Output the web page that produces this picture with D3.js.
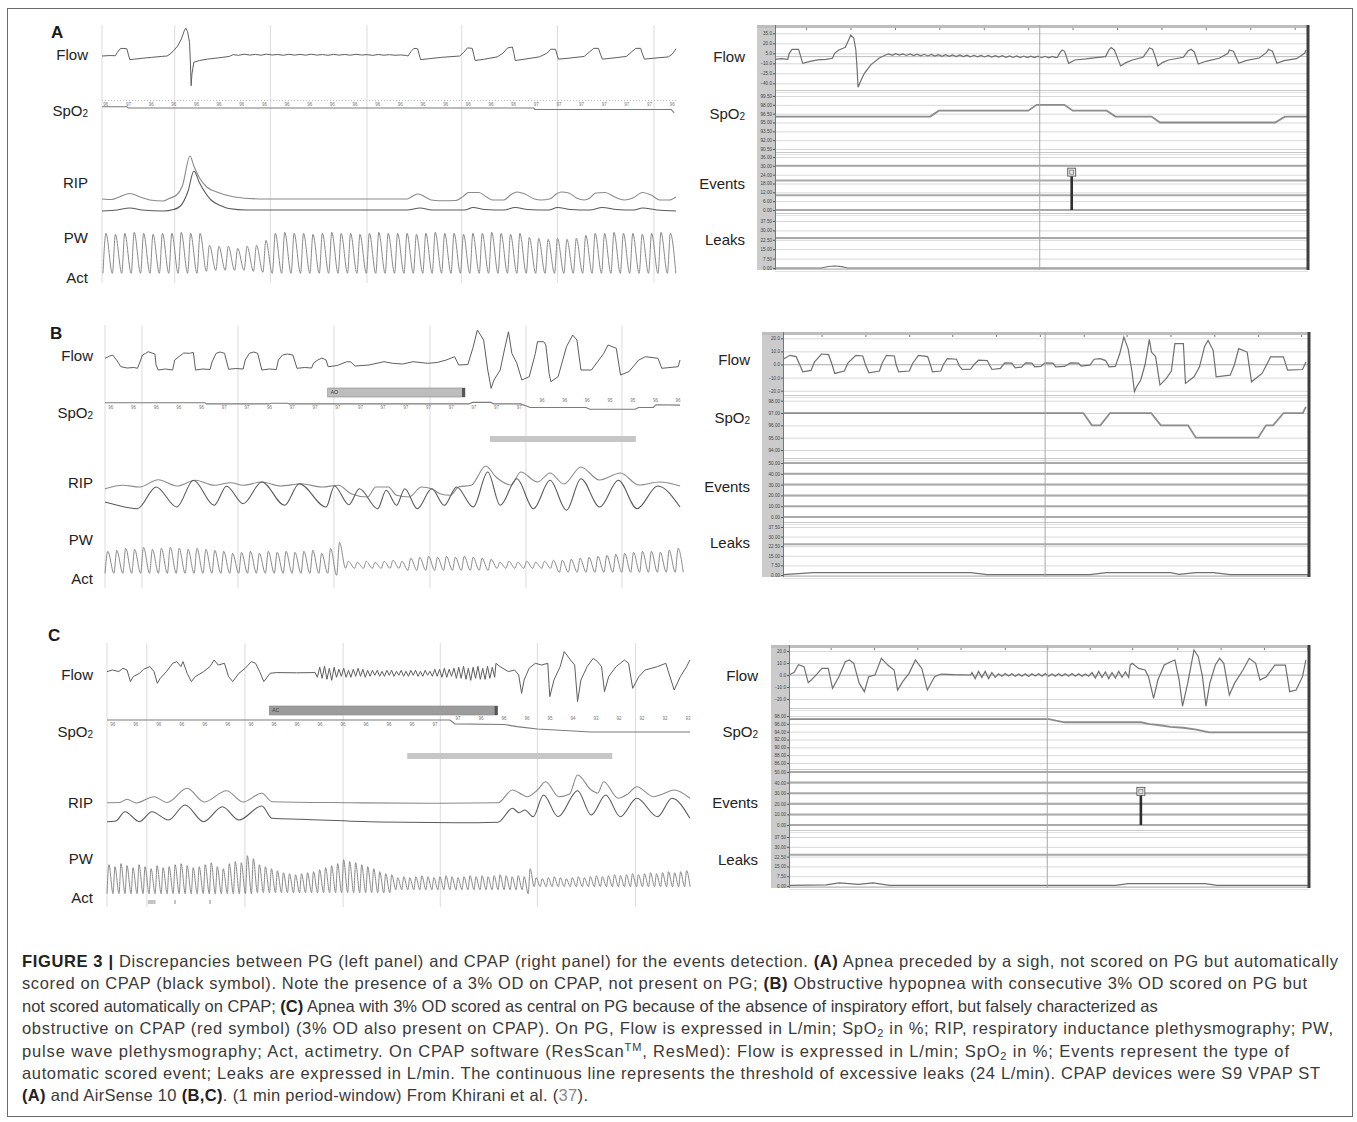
<!DOCTYPE html>
<html>
<head>
<meta charset="utf-8">
<script src="https://cdn.jsdelivr.net/npm/d3@7"></script>
<style>
  body { margin: 0; background: #fff; }
  text { font-family: "Liberation Sans", Arial, sans-serif; }
</style>
</head>
<body>
<div id="chart"></div>
<script>
// ================= PG (left panels) data : [time s, value] =================
var trackNames = ["Flow", "SpO2", "RIP", "PW", "Act"];
var cpapNames = ["Flow", "SpO2", "Events", "Leaks"];

// ---- A ----
var gridA = [7.6, 17.6, 27.7, 37.6, 47.6, 57.7];
var flowA1 = [[0,0],[0.8,0.5],[1.4,0.3],[1.6,4],[1.9,8],[2.2,8.5],[2.6,8],[2.75,2],[2.9,-4],[3.4,-3.5],[4.2,-2.5],[5.2,-1.5],[6.2,-0.5],[6.8,0],[7.1,2],[7.5,6],[7.9,11],[8.3,19],[8.6,28],[8.75,31],[8.95,27],[9.15,15],[9.25,-10],[9.32,-33],[9.4,-20],[9.6,-7],[10.2,-5],[11,-3.5],[12.2,-2],[13.3,-0.5]];
var rippleA = [1.5,0.8,2,1,1.8,0.9,2.1,1.1,1.7,0.8,1.9,1,1.8,0.9,2,1,1.6,0.8,1.8,1,1.7,0.9,1.9,1.1,1.5,0.7,1.7,0.9,1.5,0.8,1.2,0.6];
var rippleA_span = [13.7, 31.8];
var flowA2 = [[32.0,0],[32.3,5],[32.6,8.5],[33.0,8],[33.15,2],[33.3,-4],[34.2,-3],[35.5,-1.5],[37.4,0],[37.8,4],[38.2,9],[38.7,8.5],[38.85,2],[39.0,-5],[40,-3.5],[41.3,-1],[41.9,3],[42.4,9],[42.9,10],[43.05,3],[43.2,-5],[44.2,-3.5],[45.7,-1],[46.5,3],[46.9,7.5],[47.4,7.5],[47.55,2],[47.7,-3.5],[48.7,-2.5],[50.4,-0.5],[50.9,4],[51.4,8.5],[51.9,8.5],[52.1,2],[52.3,-3.5],[53.2,-2.5],[54.8,-0.5],[55.3,4],[55.8,8.5],[56.3,8.5],[56.5,2],[56.7,-3.5],[57.6,-2.5],[59.2,-1],[59.6,2],[60,8]];
var spo2A = [[0,96.6],[2.6,96.6],[2.75,96.2],[45.1,96.2],[45.25,95.7],[59.5,95.7],[59.8,94.6]];
var spo2LabelsA = ["96","97","96","96","96","96","96","96","96","96","96","96","96","96","96","96","96","96","96","97","97","97","97","97","97","96"];
var ripUpA = [[0,12],[1,11.5],[1.8,14],[2.9,17.5],[4,14],[5,11],[6.4,10],[7,12.5],[7.8,16],[8.4,25],[9.2,55],[9.6,45],[10.2,33],[10.95,24],[12,19],[13.7,14.3],[16.9,12],[31.9,12],[32.5,15],[33.0,17],[33.6,15],[34.4,11],[35.3,10.3],[37,10.5],[37.8,15],[38.3,18.5],[39.4,18.5],[40.2,14],[40.8,11],[42,11],[42.7,16],[43.4,19],[44.2,17],[45.2,12],[45.9,11],[46.8,12],[47.5,17],[48,19],[48.8,18],[49.6,13],[50.4,11],[51,13],[51.6,18],[52.6,18.5],[53.6,14],[54.6,11],[55.5,13],[56.5,18.5],[57.4,16],[58.3,11],[59.3,11],[60,14]];
var ripLoA = [[0,0],[1.6,1],[2.9,3],[4.2,1],[6.4,0],[7.5,1.5],[8.2,5],[9.0,20],[9.6,40],[10.2,28],[11.4,11],[12.5,5],[13.25,2.5],[15.1,1],[31.9,1],[33.25,3],[34.5,1],[37.9,1],[38.8,3.5],[40,1.5],[42,1],[43.2,3.5],[44.5,1.5],[46.7,1],[47.6,3.5],[49,1.5],[51,1],[52.3,3.5],[53.8,1.5],[55.6,1],[56.5,3],[58,1],[60,0]];
var pwRangeA = [0.1, 59.1];
var pwPeaksA = [40,39,40,41,40,39,40,40,41,40,40, 28,27,27,25,27,28,33, 40,41,40,40,39,40,41,40,40,39,40,41,40,40,40,39,40,41,40,40,39,40,40,41,40,39,40, 36,35,34,35,34,35, 38,40,40,41,40,40,39,40,41,40];
var pwTroughsA = [0,0,0,0,0,0,0,0,0,0,0, 2,3,3,3,3,2,1, 0,0,0,0,0,0,0,0,0,0,0,0,0,0,0,0,0,0,0,0,0,0,0,0,0,0,0, 0,0,0,0,0,0, 0,0,0,0,0,0,0,0,0,0];

// ---- B ----
var gridB = [3.85, 13.85, 23.85, 33.85, 43.85, 53.85];
var flowB = [[0,1.7],[0.5,4],[0.8,5],[1.2,0],[1.65,-6.7],[2.3,-8],[3,-7.5],[3.38,-8.3],[3.6,-3],[3.9,5],[4.24,6.7],[4.5,8.3],[4.89,7],[5.2,6],[5.32,-5],[5.54,-10],[6.3,-9],[7.05,-10],[7.26,0],[7.7,3.3],[8.2,7],[8.78,6.7],[9.21,7.5],[9.43,-10],[10.2,-9],[10.94,-9.5],[11.15,-2],[11.58,6.7],[12,8],[12.45,6.7],[12.88,-9.3],[13.6,-8.5],[14.39,-9],[14.61,0],[15.04,6.7],[15.5,8],[15.9,6.7],[16.34,-10],[17.1,-9],[17.85,-9.5],[18.06,0],[18.49,5],[19,6],[19.57,5],[20,-8.3],[20.8,-7.5],[21.52,-8],[21.73,-3],[22.17,0],[22.6,2],[23.03,0],[23.24,-6.7],[24.2,-5.5],[25.19,-1.7],[25.6,-2],[26.05,-6],[27.5,-5],[29.07,-1.7],[29.94,-3.3],[31,-4],[32.1,-1.7],[33.6,-3.3],[34.6,-2.5],[35.55,0],[36.42,3.3],[36.84,-5],[37.8,-4.5],[38.36,13.3],[38.79,30],[39.44,20],[39.87,-10],[40.22,-28.3],[40.52,-20],[41.17,-10],[41.6,10],[42.03,28.3],[42.38,6.7],[42.9,-3.3],[43.42,-20],[44.19,-16.7],[44.83,6.7],[45.05,18.3],[45.7,18.3],[45.92,15],[46.26,-13.3],[46.44,-21.7],[47.2,-16.7],[48.07,13.3],[48.72,25],[49.16,20],[49.58,-10],[50.67,-10],[51.96,6.7],[52.4,15],[53.26,11.7],[53.7,-15],[54.57,-11.7],[55.6,0],[56.3,3.3],[57.6,1.7],[58,-8.3],[59.7,-6.7],[59.9,0]];
var spo2B = [[0,97.2],[10.4,97.2],[10.6,96.8],[17.1,96.8],[17.3,97],[19,97],[19.2,96.8],[37.9,96.8],[38.3,97.3],[40.2,97.3],[40.5,96.8],[43.3,96.8],[44.3,95.6],[50.1,95.6],[50.5,95],[55.2,95],[55.6,95.6],[57.1,95.6],[57.4,96.5],[59.9,96.4]];
var spo2LabelsB = ["96","96","96","96","96","97","97","96","97","97","97","97","97","97","97","97","97","97","97","96","96","96","95","95","96","96"];
var ripUpB = [[0,8.3],[1.87,11.7],[3.6,10],[5.54,17.3],[7.48,11],[9.43,16.7],[11.37,11.7],[13.1,14.3],[14.4,11.7],[16.34,15],[18.28,11],[20.44,13.3],[22.6,10],[24.33,11.7],[25.62,3.3],[27.35,0],[28.21,10],[29.51,10],[30.37,1.7],[31.67,0],[32.96,10],[34.04,8.3],[34.9,3.3],[35.98,1.7],[36.84,10],[38.15,11.7],[39.66,31],[40.73,20],[42.3,12],[43.3,25],[45.05,15],[46.36,24],[47.8,13],[49.58,30],[51.5,17],[53.7,24],[55.6,12],[57.8,15],[59.9,11]];
var ripLoB = [[0,-5],[1.2,-8],[3.38,-11.7],[5.32,10],[7.48,-10],[9.21,16.7],[11.37,-8.3],[12.66,10.7],[14.4,-6.7],[16.34,15],[18.71,-8.3],[20.23,13.3],[23.03,-10],[23.9,11],[25.4,-7.7],[26.5,8.3],[28.4,-11.7],[29.29,6.7],[30.37,-8.3],[31.23,8.3],[32.53,-11.7],[34.04,8.3],[35.33,-8.3],[36.63,10],[38.36,-10],[39.87,25],[41.17,-8.3],[42.9,18.3],[44.63,-11.7],[46.36,16.7],[48.07,-13.3],[49.58,18.3],[51.53,-10],[53.48,16.7],[55.42,-11.7],[57.57,11],[59.9,-10]];
var pwRangeB = [0.0, 59.4];
var pwPeaksB = [27,28,30,29,31,29,30,31,30,29,30,29,28, 27,25,26,27,25,27,26,27,26,27, 28,25,30,36, 17,16,17,16,17,18,17, 20,21,22,21,22,21,22,21,20,19, 16,17,16,17,16,17,18, 18,19,20,21,22,23,24,25,26,27,27,26,28,30];
var pwTroughsB = [5,5,5,5,5,5,5,5,5,5,5,5,5, 5,5,5,5,5,5,5,5,5,5, 5,5,5,3, 10,10,10,10,10,10,10, 8,8,8,8,8,8,8,8,8,8, 10,10,10,10,10,10,10, 6,6,6,6,6,6,6,6,6,6,6,6,6,6];
var scoredB = [{label: "AO", start: 23.2, end: 37.5}];
var desatB = [[40.1, 55.3]];

// ---- C ----
var gridC = [4.1, 14.2, 24.3, 34.3, 44.3, 54.4];
var flowC1 = [[0,1.7],[0.57,3.3],[1.21,1.7],[1.64,5],[2.06,3.3],[2.41,-8.3],[2.7,-3.3],[3.34,0],[3.77,4],[4.41,6.7],[4.84,1.7],[5.18,-10],[5.48,-5],[6.12,1.7],[6.76,10],[7.18,11.7],[7.61,6.7],[7.82,11.7],[8.25,0],[8.68,-8.3],[9.1,-3.3],[9.95,1.7],[10.6,6.7],[11.02,13.3],[11.45,8.3],[12.09,10],[12.51,-3.3],[12.94,-8.3],[13.58,0],[14.22,5],[14.86,11.7],[15.29,10],[15.71,1.7],[16.14,-8.3],[16.78,0],[17.42,0.7],[19.5,0.5],[21.2,0.7]];
var oscC = [1,-4,6,-5,7,-6,5,-7,6,-4, 4,-3,5,-4,3,-4,4,-3,5,-3,4,-4,3,-3, 3,-2,3,-3,2,-3,3,-2,3,-3,2,-2,3,-3,2,-3,3,-2,3,-3,2,-3,3,-2,2,-3, 4,-3,4,-4,5,-4,4,-3,5, -5,6,-5,7,-6,5,-7,6,-5,7,-6,5,-6,7,-5,6,-4];
var oscC_span = [21.4, 39.9];
var flowC2 = [[40.03,10],[40.45,6.7],[41.31,1.7],[41.95,3.3],[42.37,-1.7],[42.67,-20],[42.93,-6.7],[43.44,5],[44.08,10],[44.72,8.3],[45.36,10],[45.57,-23.3],[46,-6.7],[46.64,6.7],[47.06,21.7],[47.7,13.3],[48.13,8.3],[48.43,-28.3],[48.77,-6.7],[49.41,6.7],[50.05,15],[50.48,11.7],[50.9,6.7],[51.2,-18.3],[51.63,-3.3],[52.4,6.7],[53.25,13.3],[53.68,10],[54.1,-15],[54.74,-3.3],[55.38,3.3],[56.66,6.7],[57.51,10],[58.37,-16.7],[59.01,-3.3],[59.65,6.7],[59.99,13.3]];
var spo2C = [[0,97],[35.3,97],[35.8,95.7],[40.9,95.5],[42.2,94.8],[44.3,94],[49.8,93],[55.8,93],[60,93]];
var spo2LabelsC = ["96","96","96","96","96","96","96","96","96","96","96","96","96","96","97","97","96","96","96","95","94","93","92","92","92","93"];
var ripUpC = [[0,27.3],[1.3,27.5],[2.06,30.7],[3.0,27],[4.84,33.3],[6.2,27.5],[8.25,41.7],[10,28],[12.3,39.3],[14,28],[15.93,36.7],[17,28.3],[25,27.3],[33,26.7],[40.24,27.3],[41.73,40],[42.8,35],[43.23,33.3],[44.3,40],[45.14,48.3],[46.5,33.3],[47.6,36],[48.43,55],[49.83,40],[50.5,37],[51.12,48.3],[52.61,31.7],[53.6,36],[54.53,43.3],[56.23,33.3],[57.2,36],[58.37,40],[59.99,31.7]];
var ripLoC = [[0,8.3],[0.9,9],[1.85,18.3],[3.34,8.3],[4.62,18.3],[6.33,10],[8.04,25],[9.95,8.3],[11.87,23.3],[13.58,10],[15.93,24],[16.99,11.7],[20,10.7],[28,8],[36,7.3],[40.24,7.8],[41.73,21.7],[42.4,17.3],[43.01,20],[43.86,13.3],[44.93,35],[46.42,13.3],[48.43,39.3],[49.83,15],[51.33,35],[52.82,13.3],[54.53,31.7],[56.66,13.3],[58.15,31.7],[59.99,11.7]];
var pwRangeC = [0.0, 59.45];
var pwPeaksC = [32,30,33,31,29,32,30,28,31,29,30,32,33,31,29,30,32,34,30,28,33,35,34, 41,38, 32,30,28,26,24,23,22,23,24,25,27,29,31,33, 37,35,34,32,30,28,25,23,22, 19,20,19,20,21,20,19,20,21,20,19,20,21,20,21,20,21,22,21,20,21,20, 28, 19,18,19,20,19,18,19,20,19,20,21,20,21,22,21,22,23,22,23,24,23,24,25,24,25,26];
var pwTroughsC = [3,3,3,3,3,3,3,3,3,3,3,3,3,3,3,3,3,3,3,3,3,3,3, 3,3, 4,4,4,4,4,4,4,4,4,4,4,4,4,4, 4,4,4,4,4,4,4,4,4, 7,7,7,7,7,7,7,7,7,7,7,7,7,7,7,7,7,7,7,7,7,7, 3, 10,10,10,10,10,10,10,10,10,10,10,10,10,10,10,10,10,10,10,10,10,10,10,10,10,10];
var scoredC = [{label: "AC", start: 16.7, end: 40.2}];
var desatC = [[30.9, 52.0]];
var actC = [[4.2, 5.0], [6.9, 7.1], [10.5, 10.7]];

// ================= CPAP (right panels) data =================
var topTicksA = [3.5,8.5,13.5,18.5,23.5,28.5,33.5,38.5,43.5,48.5,53.5,58.5];
var flowTicksA = [35, 20, 5, -10, -25, -40];
var spo2TicksA = [99.5, 98, 96.5, 95, 93.5, 92, 90.5];
var eventTicksA = [36, 30, 24, 18, 12, 6, 0];
var leakTicks = [37.5, 30, 22.5, 15, 7.5, 0];
var cpapFlowA1 = [[0,-4],[0.7,-3],[1.44,-4],[1.6,5],[1.92,11],[2.65,11],[2.9,0],[3.12,-10],[3.84,-7.5],[4.8,-5],[5.75,-4],[6.47,-2.4],[6.71,5],[7.19,10],[7.67,12.5],[7.91,14],[8.25,24],[8.53,32.5],[8.87,27.6],[9.1,10],[9.25,-20],[9.35,-46],[9.7,-35],[10.06,-25],[10.78,-12.4],[11.74,-2],[12.46,2.5]];
var cpapRippleA = [4,2,4.5,2.2,4.2,1.8,4,1.5,3.6,1.3,3.5,1,3.2,0.8,3,0.5,2.8,0.4,2.6,0.2,2.5,0,2.2,-0.2,2,-0.4,1.8,-0.5,1.7,-0.7,1.5,-0.8,1.3,-1,1.2,-1.2,1,-1.3,0.9,-1.5,0.8,-1.5,0.6,-1.6,0.5,-1.7,0.4,-1.5];
var cpapRippleA_span = [12.8, 31.6];
var cpapFlowA2 = [[31.8,-1],[32.08,6],[32.33,10],[32.6,8],[32.8,0],[33.05,-10],[33.76,-5],[35,-3.5],[36.4,-1],[37.2,0],[37.6,10],[37.84,13.5],[38.2,10],[38.5,0],[38.9,-14],[39.5,-9],[40.23,-5],[41.43,-1],[41.9,8],[42.15,13],[42.5,11],[42.8,0],[43.1,-14],[43.6,-9],[44.3,-5],[45.97,-1],[46.46,8],[46.84,11],[47.2,7],[47.65,-11],[48.5,-7],[50,-2.5],[51,5],[51.14,10],[51.6,8],[52.2,-10],[53,-6],[54.5,-2],[55.3,6],[55.55,11],[56,8],[56.5,-10],[57.3,-6],[58.7,-3],[59.62,5],[59.77,10]];
var cpapSpo2A = [[0,96],[17.48,96],[18.44,97],[28.5,97],[29.46,98],[32.57,98],[33.52,97],[37.35,97],[38.32,96],[42.39,96],[43.34,95],[56.3,95],[57.4,96],[60,96]];
var cpapEventsA = [{t: 33.4, v: 23}];
var cpapLeaksA = [[0,0],[5.2,0],[6.0,1.2],[6.7,1.6],[7.5,1.1],[8.2,0],[60,0]];

var topTicksB = [4.4,9.4,14.4,19.3,24.3,29.3,34.3,39.2,44.2,49.2,54.2,59.1];
var flowTicksBC = [20, 10, 0, -10, -20];
var spo2TicksB = [98, 97, 96, 95, 94];
var eventTicksBC = [50, 40, 30, 20, 10, 0];
var cpapFlowB = [[0,4],[0.8,7],[1.5,6],[1.9,0],[2.25,-5.6],[3.2,-4.5],[3.6,2],[4.4,8],[5.2,7.5],[5.6,0],[5.9,-6.8],[7,-5],[7.4,1],[8.3,7],[9.1,6.5],[9.4,0],[9.8,-6.3],[11,-5],[11.3,1],[11.8,7],[12.7,6.5],[12.9,0],[13.2,-5.6],[14.4,-5],[14.8,1],[15.45,7],[16.5,6],[16.8,0],[17.05,-5.6],[18,-5],[18.3,0],[18.74,4.5],[19.8,4],[20.1,-1],[20.44,-3.8],[21.4,-3.5],[21.8,0],[22.3,3.3],[23.3,3],[23.6,-1],[23.84,-3.8],[24.8,-3],[25.3,1.2],[26.1,1],[26.5,-2.5],[27.2,-2],[27.7,1.2],[28.4,1],[28.7,-1.8],[29.4,-1.5],[29.9,1.2],[30.8,1],[31.1,-1.8],[32.1,-1.5],[32.8,1.2],[33.7,1],[34,-1.3],[35,-0.5],[35.5,4],[36.2,4.5],[36.8,3],[37.2,-1.8],[37.9,-1.5],[38.4,8],[38.88,21],[39.37,12],[39.8,-5],[40.09,-20.7],[40.33,-17],[40.8,-12],[41.3,0],[41.79,19.2],[42.03,9.5],[42.5,6],[43,-15.7],[43.73,-10.6],[44.3,-5],[44.7,15.9],[45.67,15.9],[45.91,-14.4],[46.88,-9.4],[47.5,-2],[48.1,14],[48.49,18.4],[49.07,10.8],[49.41,-9.4],[51.01,-8.1],[51.5,0],[51.98,12.1],[52.95,9.5],[53.44,-13.2],[54.65,-6.8],[55.62,5.8],[57.08,5.8],[57.56,-4.3],[59.26,-3.8],[59.65,2]];
var cpapSpo2B = [[0,97],[34.26,97],[35.24,96],[36.2,96],[37.3,97],[42.0,97],[43.1,96],[46.2,96],[47.1,95],[54.2,95],[55.1,96],[55.9,96],[57.1,97],[59.3,97],[59.65,97.5]];
var cpapEventsB = [];
var cpapLeaksB = [[0,0.3],[3.5,1.8],[21.4,1.8],[23.3,0.3],[35,0.3],[36.9,1.8],[44.2,1.8],[45.2,0.5],[47.1,1.8],[49.1,1.8],[51,0.3],[60,0.3]];

var topTicksC = [4.8,9.8,14.8,19.8,24.9,29.8,34.7,39.6,44.8,49.8,54.8,59.8];
var spo2TicksC = [98, 96, 94, 92, 90, 88, 86];
var cpapFlowC1 = [[0,0],[0.6,2.2],[1.09,8.6],[1.73,6.9],[2.22,-6.4],[2.56,-4.2],[3.3,1.4],[3.79,5.5],[4.53,5.5],[5.02,-11.1],[5.76,-1.4],[6.49,11.1],[6.98,12.5],[7.47,9.7],[8.11,-7],[8.7,-13.9],[9.19,-1.4],[9.92,0],[10.66,13.9],[11.4,8.3],[12.13,4.2],[12.53,-12.5],[13.12,-5.5],[13.85,1.4],[14.59,12.5],[15.32,5.5],[15.96,-12.5],[16.8,-1.4],[17.54,0.8],[19,0.3],[20.97,0]];
var cpapOscC = [2,-3,3,-2,3,-3,2,-2, 1,-1,1.2,-0.8,1,-1,0.8,-1,1,-1.2,1,-0.8,1,-1,1.2,-1,0.8,-1,1,-0.8,1,-1,1.2,-1,1,-1,0.8,-1, 2,-2.5,3,-2,2.5,-3,2,-2.5,3,-2,2.5,-2];
var cpapOscC_span = [21.1, 39.2];
var cpapFlowC2 = [[39.37,8.3],[39.6,9.7],[40.35,5.5],[41.09,4.2],[41.48,-1.4],[42.07,-19.4],[42.56,-4.2],[43.3,8.3],[44.03,11.1],[44.53,12.5],[45.02,-4.2],[45.41,-26],[46,-7],[46.73,20.8],[47.23,15.3],[47.71,-1.4],[48.11,-26],[48.55,-7],[49.19,8.3],[49.68,13.9],[50.17,9.7],[50.81,-16.7],[51.4,-7],[52.38,4.2],[53.11,13.9],[53.85,9.7],[54.34,-4.2],[55.08,-1.4],[56.06,8.3],[57.28,8.3],[57.77,-13.9],[58.51,-12.5],[59.25,-1.4],[59.64,12.5]];
var cpapSpo2C = [[0,97.2],[30,97.2],[30.8,96.8],[31.8,96.4],[40.6,96.4],[41.6,95.9],[42.6,95.7],[44,95.2],[45.5,95],[47,94.5],[48.5,93.8],[60,93.8]];
var cpapEventsC = [{t: 40.6, v: 28}];
var cpapLeaksC = [[0,0.5],[4.3,0.8],[5.8,2.4],[8,1.2],[9.7,2.4],[11.6,0.5],[37.7,0.5],[39.1,1.8],[48,1.8],[49.4,0.5],[60,0.5]];
var leakThreshold = 24;

// ================= caption =================
var captionLines = [
  [["FIGURE 3 | ", "b"], ["Discrepancies between PG (left panel) and CPAP (right panel) for the events detection. ", ""], ["(A)", "b"], [" Apnea preceded by a sigh, not scored on PG but automatically", ""]],
  [["scored on CPAP (black symbol). Note the presence of a 3% OD on CPAP, not present on PG; ", ""], ["(B)", "b"], [" Obstructive hypopnea with consecutive 3% OD scored on PG but", ""]],
  [["not scored automatically on CPAP; ", ""], ["(C)", "b"], [" Apnea with 3% OD scored as central on PG because of the absence of inspiratory effort, but falsely characterized as", ""]],
  [["obstructive on CPAP (red symbol) (3% OD also present on CPAP). On PG, Flow is expressed in L/min; SpO", ""], ["2", "sub"], [" in %; RIP, respiratory inductance plethysmography; PW,", ""]],
  [["pulse wave plethysmography; Act, actimetry. On CPAP software (ResScan", ""], ["TM", "sup"], [", ResMed): Flow is expressed in L/min; SpO", ""], ["2", "sub"], [" in %; Events represent the type of", ""]],
  [["automatic scored event; Leaks are expressed in L/min. The continuous line represents the threshold of excessive leaks (24 L/min). CPAP devices were S9 VPAP ST", ""]],
  [["(A)", "b"], [" and AirSense 10 ", ""], ["(B,C)", "b"], [". (1 min period-window) From Khirani et al. (", ""], ["37", "link"], [").", ""]]
];
var captionWidths = [1316, 1285, 1095, 1311, 1267, 1298, 566];

// ================= drawing =================
var svg = d3.select("#chart").append("svg").attr("width", 1357).attr("height", 1122);
svg.append("rect").attr("width", 1357).attr("height", 1122).attr("fill", "#fff");
svg.append("rect").attr("x", 7.5).attr("y", 8.5).attr("width", 1345).attr("height", 1108)
  .attr("fill", "none").attr("stroke", "#6a6a6a");

function oscSeg(span, vals) {
  var s = d3.scaleLinear().domain([0, vals.length - 1]).range(span);
  return vals.map(function(v, i) { return [s(i), v]; });
}
function pwPoints(range, peaks, troughs) {
  var b = d3.scaleLinear().domain([0, peaks.length - 1]).range(range);
  var pts = [];
  peaks.forEach(function(p, i) { pts.push([b(i), troughs[i]]); pts.push([b(i + 0.32), p]); });
  pts.push([b(peaks.length - 1 + 0.9), troughs[troughs.length - 1]]);
  return pts;
}
function trackLabel(g, x, y, name) {
  var t = g.append("text").attr("x", x).attr("y", y + 5).attr("text-anchor", "end")
    .attr("font-size", 15).attr("fill", "#222");
  if (name === "SpO2") {
    t.append("tspan").text("SpO");
    t.append("tspan").text("2").attr("font-size", 10).attr("dy", 1);
  } else t.text(name);
}

function drawPG(L, D) {
  var g = svg.append("g");
  var x = d3.scaleLinear().domain([0, 60]).range([L.x0, L.x1]);
  g.selectAll(null).data([0].concat(D.grid)).enter().append("line")
    .attr("x1", function(d) { return x(d); }).attr("x2", function(d) { return x(d); })
    .attr("y1", L.top).attr("y2", L.bottom).attr("stroke", "#dcdcdc");
  g.append("text").attr("x", L.letterX).attr("y", L.letterY).text(L.letter)
    .attr("font-weight", "bold").attr("font-size", 17).attr("fill", "#1a1a1a");
  trackNames.forEach(function(n, i) { trackLabel(g, L.labelX, L.labelY[i], n); });

  var lin = function(zero, k) { return d3.scaleLinear().domain([0, 1]).range([zero, zero - k]); };
  var draw = function(pts, y, color, curve, w) {
    g.append("path").datum(pts)
      .attr("d", d3.line().x(function(p) { return x(p[0]); }).y(function(p) { return y(p[1]); }).curve(curve))
      .attr("fill", "none").attr("stroke", color).attr("stroke-width", w || 1);
  };
  // flow
  draw(D.flow, lin(L.flowZero, L.flowK), "#5e5e5e", d3.curveLinear, 1);
  // spo2 row
  var ys = d3.scaleLinear().domain([D.spo2Ref, D.spo2Ref - 1]).range([L.spo2Y, L.spo2Y + 3]);
  if (L.dotLineY) g.append("line").attr("x1", x(0)).attr("x2", x(60)).attr("y1", L.dotLineY).attr("y2", L.dotLineY)
    .attr("stroke", "#bbb").attr("stroke-dasharray", "1,2");
  var ls = d3.scaleLinear().domain([0, D.spo2Labels.length - 1]).range(L.spo2LabelRange);
  g.selectAll(null).data(D.spo2Labels).enter().append("text")
    .attr("x", function(d, i) { return x(ls(i)); })
    .attr("y", function(d, i) { return i >= L.labelFlip ? L.spo2LabelY2 : L.spo2LabelY; })
    .attr("font-size", 4.5).attr("fill", "#777").attr("text-anchor", "middle").text(function(d) { return d; });
  draw(D.spo2, ys, "#7a7a7a", d3.curveLinear, 1.1);
  // scored bars
  (D.scored || []).forEach(function(s) {
    g.append("rect").attr("x", x(s.start)).attr("y", L.barY).attr("width", x(s.end) - x(s.start)).attr("height", 9)
      .attr("fill", L.barFill).attr("stroke", "#888").attr("stroke-width", 0.6);
    g.append("text").attr("x", x(s.start) + 3).attr("y", L.barY + 6).attr("font-size", 5).attr("fill", "#444").text(s.label);
    g.append("rect").attr("x", x(s.end) - 3).attr("y", L.barY).attr("width", 3).attr("height", 9).attr("fill", "#555");
  });
  (D.desat || []).forEach(function(s) {
    g.append("rect").attr("x", x(s[0])).attr("y", L.desatY).attr("width", x(s[1]) - x(s[0])).attr("height", 6)
      .attr("fill", "#c6c6c6");
  });
  // RIP
  var yr = lin(L.ripZero, 1);
  draw(D.ripUp, yr, "#8a8a8a", d3.curveMonotoneX, 1.1);
  draw(D.ripLo, yr, "#5a5a5a", d3.curveMonotoneX, 1.1);
  // PW
  draw(pwPoints(D.pwRange, D.pwPeaks, D.pwTroughs), lin(L.pwZero, 1), "#8a8a8a", d3.curveMonotoneX, 1);
  // Act
  (D.act || []).forEach(function(a) {
    g.append("rect").attr("x", x(a[0])).attr("y", L.actY).attr("width", Math.max(1, x(a[1]) - x(a[0])))
      .attr("height", 4).attr("fill", "#c4c4c4");
  });
}

function drawCPAP(R, D) {
  var g = svg.append("g");
  var x = d3.scaleLinear().domain([0, 60]).range([R.x0, R.x1]);
  g.append("rect").attr("x", R.sx).attr("y", R.top).attr("width", R.x0 - R.sx).attr("height", R.bottom - R.top)
    .attr("fill", "#cbcbcb");
  g.append("rect").attr("x", R.sx).attr("y", R.top).attr("width", R.x1 - R.sx).attr("height", 3).attr("fill", "#bdbdbd");
  var top = g.append("g").attr("transform", "translate(0," + (R.top + 3) + ")")
    .call(d3.axisBottom(x).tickValues(D.topTicks).tickSize(2).tickFormat(""));
  top.select(".domain").remove();
  top.selectAll("line").attr("stroke", "#777");

  R.panels.forEach(function(p, pi) {
    var y = d3.scaleLinear().domain(p.dom).range(p.rng);
    var ticks = D[p.key + "Ticks"];
    g.selectAll(null).data(ticks).enter().append("line")
      .attr("x1", R.x0).attr("x2", R.x1)
      .attr("y1", function(d) { return y(d) + 0.5; }).attr("y2", function(d) { return y(d) + 0.5; })
      .attr("stroke", "#d8d8d8");
    g.selectAll(null).data(p.thick).enter().append("line")
      .attr("x1", R.x0).attr("x2", R.x1)
      .attr("y1", function(d) { return y(d); }).attr("y2", function(d) { return y(d); })
      .attr("stroke", p.thickColor || "#a9a9a9").attr("stroke-width", p.thickW || 2);
    g.append("line").attr("x1", R.x0).attr("x2", R.x1).attr("y1", p.y1 + 0.5).attr("y2", p.y1 + 0.5).attr("stroke", "#c8c8c8");
    g.append("line").attr("x1", R.x0).attr("x2", R.x1).attr("y1", p.y1 + 2.5).attr("y2", p.y1 + 2.5).attr("stroke", "#e2e2e2");
    var ax = g.append("g").attr("transform", "translate(" + R.x0 + ",0)")
      .call(d3.axisLeft(y).tickValues(ticks).tickSize(2).tickPadding(1).tickFormat(d3.format(p.fmt)));
    ax.select(".domain").remove();
    ax.selectAll("line").attr("stroke", "#555");
    ax.selectAll("text").attr("font-size", 4.6).attr("fill", "#444").attr("font-family", "Liberation Sans, Arial");
    trackLabel(g, R.labelX, p.labelY, cpapNames[pi]);

    var line = d3.line().x(function(d) { return x(d[0]); }).y(function(d) { return y(d[1]); });
    if (p.key === "events") {
      D.events.forEach(function(e) {
        g.append("line").attr("x1", x(e.t)).attr("x2", x(e.t)).attr("y1", y(0)).attr("y2", y(e.v))
          .attr("stroke", "#2e2e2e").attr("stroke-width", 2.6);
        g.append("rect").attr("x", x(e.t) - 4).attr("y", y(e.v) - 8).attr("width", 8).attr("height", 8)
          .attr("fill", "#e4e4e4").attr("stroke", "#4a4a4a").attr("stroke-width", 0.8);
        g.append("rect").attr("x", x(e.t) - 2).attr("y", y(e.v) - 6).attr("width", 4).attr("height", 4)
          .attr("fill", "none").attr("stroke", "#666").attr("stroke-width", 0.6);
      });
    } else {
      g.append("path").datum(D[p.key]).attr("d", line)
        .attr("fill", "none").attr("stroke", p.key === "spo2" ? "#8c8c8c" : "#707070")
        .attr("stroke-width", p.key === "spo2" ? 1.8 : 1.2);
    }
  });
  g.append("line").attr("x1", R.x0 + 0.5).attr("x2", R.x0 + 0.5).attr("y1", R.top).attr("y2", R.bottom).attr("stroke", "#777");
  g.append("line").attr("x1", x(R.centerT)).attr("x2", x(R.centerT)).attr("y1", R.top).attr("y2", R.bottom)
    .attr("stroke", "#a8a8a8");
  g.append("line").attr("x1", R.x1).attr("x2", R.x1).attr("y1", R.top).attr("y2", R.bottom)
    .attr("stroke", "#3e3e3e").attr("stroke-width", 3);
}

// ---- PG panels ----
drawPG({x0: 102, x1: 676, top: 25, bottom: 283, letter: "A", letterX: 51, letterY: 38, labelX: 88,
  labelY: [55, 111, 183, 238, 278], flowZero: 56, flowK: 0.9, spo2Y: 108, dotLineY: 100.5,
  spo2LabelY: 105.5, spo2LabelY2: 105.5, labelFlip: 99, spo2LabelRange: [0.4, 59.6],
  ripZero: 211, pwZero: 273.3},
  {grid: gridA, flow: flowA1.concat(oscSeg(rippleA_span, rippleA), flowA2), spo2: spo2A, spo2Ref: 96.2,
   spo2Labels: spo2LabelsA, ripUp: ripUpA, ripLo: ripLoA, pwRange: pwRangeA, pwPeaks: pwPeaksA, pwTroughs: pwTroughsA});

drawPG({x0: 105, x1: 681, top: 325, bottom: 588, letter: "B", letterX: 50, letterY: 339, labelX: 93,
  labelY: [356, 413, 483, 540, 579], flowZero: 360, flowK: 1, spo2Y: 402.7,
  spo2LabelY: 408.5, spo2LabelY2: 402, labelFlip: 19, spo2LabelRange: [0.6, 59.7],
  barY: 388, barFill: "#bdbdbd", desatY: 436, ripZero: 497, pwZero: 578.3},
  {grid: gridB, flow: flowB, spo2: spo2B, spo2Ref: 97.2, spo2Labels: spo2LabelsB, scored: scoredB, desat: desatB,
   ripUp: ripUpB, ripLo: ripLoB, pwRange: pwRangeB, pwPeaks: pwPeaksB, pwTroughs: pwTroughsB});

drawPG({x0: 107, x1: 690, top: 643, bottom: 907, letter: "C", letterX: 48, letterY: 641, labelX: 93,
  labelY: [675, 732, 803, 859, 898], flowZero: 673.3, flowK: 1, spo2Y: 720,
  spo2LabelY: 725.5, spo2LabelY2: 719.5, labelFlip: 15, spo2LabelRange: [0.6, 59.8],
  barY: 706, barFill: "#9c9c9c", desatY: 753, ripZero: 830, pwZero: 896.7, actY: 900},
  {grid: gridC, flow: flowC1.concat(oscSeg(oscC_span, oscC), flowC2), spo2: spo2C, spo2Ref: 97, spo2Labels: spo2LabelsC,
   scored: scoredC, desat: desatC, ripUp: ripUpC, ripLo: ripLoC, pwRange: pwRangeC, pwPeaks: pwPeaksC, pwTroughs: pwTroughsC, act: actC});

// ---- CPAP panels ----
drawCPAP({sx: 757, x0: 775, x1: 1308, top: 25, bottom: 270, labelX: 745, centerT: 29.8, panels: [
    {key: "flow", labelY: 57, y1: 90, dom: [35, -40], rng: [33.3, 83.3], fmt: ".1f", thick: [0], thickColor: "#bdbdbd", thickW: 1},
    {key: "spo2", labelY: 114, y1: 152, dom: [99.5, 90.5], rng: [96, 149], fmt: ".2f", thick: []},
    {key: "events", labelY: 184, y1: 213, dom: [36, 0], rng: [157, 210], fmt: ".2f", thick: [30, 20, 10, 0]},
    {key: "leaks", labelY: 240, y1: 269, dom: [37.5, 0], rng: [221, 268], fmt: ".2f", thick: [leakThreshold]}]},
  {topTicks: topTicksA, flowTicks: flowTicksA, spo2Ticks: spo2TicksA, eventsTicks: eventTicksA, leaksTicks: leakTicks,
   flow: cpapFlowA1.concat(oscSeg(cpapRippleA_span, cpapRippleA), cpapFlowA2), spo2: cpapSpo2A, events: cpapEventsA, leaks: cpapLeaksA});

drawCPAP({sx: 762, x0: 783, x1: 1309, top: 332, bottom: 577, labelX: 750, centerT: 29.9, panels: [
    {key: "flow", labelY: 360, y1: 395, dom: [20, -20], rng: [338.3, 390.7], fmt: ".1f", thick: [0], thickColor: "#bdbdbd", thickW: 1},
    {key: "spo2", labelY: 418, y1: 458, dom: [98, 94], rng: [400.7, 450], fmt: ".2f", thick: []},
    {key: "events", labelY: 487, y1: 522, dom: [50, 0], rng: [463, 517], fmt: ".2f", thick: eventTicksBC},
    {key: "leaks", labelY: 543, y1: 576, dom: [37.5, 0], rng: [527, 575], fmt: ".2f", thick: [leakThreshold]}]},
  {topTicks: topTicksB, flowTicks: flowTicksBC, spo2Ticks: spo2TicksB, eventsTicks: eventTicksBC, leaksTicks: leakTicks,
   flow: cpapFlowB, spo2: cpapSpo2B, events: cpapEventsB, leaks: cpapLeaksB});

drawCPAP({sx: 771, x0: 789, x1: 1309, top: 645, bottom: 888, labelX: 758, centerT: 29.8, panels: [
    {key: "flow", labelY: 676, y1: 708, dom: [20, -20], rng: [651, 699], fmt: ".1f", thick: [0], thickColor: "#bdbdbd", thickW: 1},
    {key: "spo2", labelY: 732, y1: 769, dom: [98, 86], rng: [716, 763], fmt: ".2f", thick: []},
    {key: "events", labelY: 803, y1: 830, dom: [50, 0], rng: [772, 825], fmt: ".2f", thick: eventTicksBC},
    {key: "leaks", labelY: 860, y1: 887, dom: [37.5, 0], rng: [837, 886], fmt: ".2f", thick: [leakThreshold]}]},
  {topTicks: topTicksC, flowTicks: flowTicksBC, spo2Ticks: spo2TicksC, eventsTicks: eventTicksBC, leaksTicks: leakTicks,
   flow: cpapFlowC1.concat(oscSeg(cpapOscC_span, cpapOscC), cpapFlowC2), spo2: cpapSpo2C, events: cpapEventsC, leaks: cpapLeaksC});

// ---- caption ----
captionLines.forEach(function(segs, li) {
  var t = svg.append("text").attr("x", 22).attr("y", 967 + li * 22.4)
    .attr("font-size", 16.5).attr("fill", "#3a3a3a");
  var shift = 0;
  segs.forEach(function(s) {
    var sp = t.append("tspan").text(s[0]);
    var want = s[1] === "sub" ? 3 : s[1] === "sup" ? -6 : 0;
    if (want !== shift) { sp.attr("dy", want - shift); shift = want; }
    if (s[1] === "b") sp.attr("font-weight", "bold").attr("fill", "#222");
    if (s[1] === "sub" || s[1] === "sup") sp.attr("font-size", 11);
    if (s[1] === "link") sp.attr("fill", "#8a8a8a");
  });
  // stretch a line only when it is shorter than the reference line
  var natural = t.node().getComputedTextLength();
  if (captionWidths[li] > natural) t.attr("textLength", captionWidths[li]).attr("lengthAdjust", "spacing");
});
</script>
</body>
</html>
